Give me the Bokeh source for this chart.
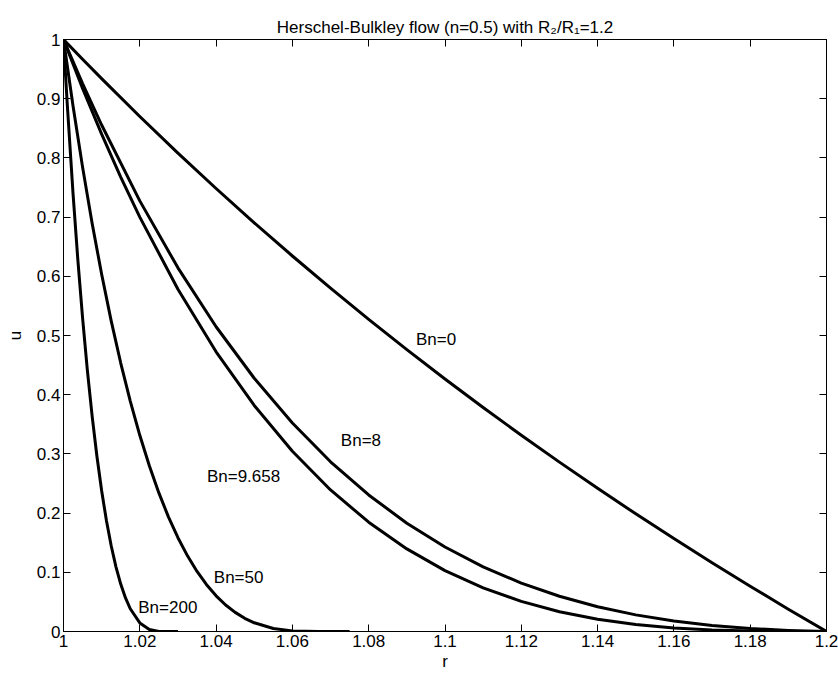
from bokeh.plotting import figure
from bokeh.models import Range1d, LinearAxis, FixedTicker, ColumnDataSource
from bokeh.core.properties import value
from bokeh.embed import file_html
from bokeh.resources import INLINE

# ---- data ----
r_bn0 = [1.0, 1.005, 1.01, 1.02, 1.03, 1.04, 1.05, 1.06, 1.07, 1.08, 1.09, 1.10,
         1.11, 1.12, 1.13, 1.14, 1.15, 1.16, 1.17, 1.18, 1.19, 1.20]
u_bn0 = [1.0, 0.9667, 0.9339, 0.8700, 0.8082, 0.7483, 0.6904, 0.6343, 0.5800, 0.5273,
         0.4762, 0.4265, 0.3784, 0.3316, 0.2861, 0.2418, 0.1988, 0.1569, 0.1162,
         0.0764, 0.0377, 0.0]

r_bn8 = [1.0, 1.005, 1.01, 1.02, 1.03, 1.04, 1.05, 1.06, 1.07, 1.08, 1.09, 1.10,
         1.11, 1.12, 1.13, 1.14, 1.15, 1.16, 1.17, 1.18, 1.19, 1.20]
u_bn8 = [1.0, 0.9256, 0.8555, 0.7274, 0.6143, 0.5148, 0.4278, 0.3521, 0.2867, 0.2306,
         0.1829, 0.1427, 0.1093, 0.0817, 0.0595, 0.0418, 0.0281, 0.0178, 0.0103,
         0.0051, 0.0019, 0.0]

r_bn9658 = [1.0, 1.005, 1.01, 1.015, 1.02, 1.03, 1.04, 1.05, 1.06, 1.07, 1.08, 1.09,
            1.10, 1.11, 1.12, 1.13, 1.14, 1.15, 1.16, 1.17, 1.18, 1.19, 1.20]
u_bn9658 = [1.0, 0.9175, 0.8401, 0.7677, 0.7000, 0.5780, 0.4725, 0.3818, 0.3044,
            0.2391, 0.1846, 0.1395, 0.1029, 0.0737, 0.0508, 0.0334, 0.0207, 0.0118,
            0.0059, 0.0025, 0.0007, 0.0001, 0.0]

r_bn50 = [1.0, 1.0025, 1.005, 1.0075, 1.01, 1.0125, 1.015, 1.0175, 1.02, 1.0225,
          1.025, 1.0275, 1.03, 1.0325, 1.035, 1.0375, 1.04, 1.0425, 1.045, 1.0475,
          1.05, 1.055, 1.06, 1.0669, 1.075]
u_bn50 = [1.0, 0.8877, 0.7844, 0.6897, 0.6033, 0.5247, 0.4535, 0.3892, 0.3314, 0.2799,
          0.2341, 0.1937, 0.1584, 0.1278, 0.1014, 0.0790, 0.0603, 0.0448, 0.0323,
          0.0223, 0.0147, 0.0051, 0.0010, 0.0, 0.0]

r_bn200 = [1.0, 1.0005, 1.001, 1.0025, 1.00375, 1.005, 1.00625, 1.0075, 1.00875,
           1.01, 1.01125, 1.0125, 1.01375, 1.015, 1.01625, 1.0175, 1.02, 1.0225,
           1.025, 1.0266, 1.03]
u_bn200 = [1.0, 0.9436, 0.8894, 0.7397, 0.6287, 0.5297, 0.4417, 0.3642, 0.2964,
           0.2377, 0.1874, 0.1448, 0.1092, 0.0801, 0.0567, 0.0384, 0.0145, 0.0034,
           0.0002, 0.0, 0.0]

label_text = ["Bn=0", "Bn=8", "Bn=9.658", "Bn=50", "Bn=200"]
label_r = [1.0924, 1.0727, 1.0376, 1.0394, 1.0196]
label_u = [0.494, 0.322, 0.261, 0.091, 0.041]

x_ticks = [1.0, 1.02, 1.04, 1.06, 1.08, 1.1, 1.12, 1.14, 1.16, 1.18, 1.2]
x_tick_labels = ["1", "1.02", "1.04", "1.06", "1.08", "1.1", "1.12", "1.14", "1.16", "1.18", "1.2"]
y_ticks = [0.0, 0.1, 0.2, 0.3, 0.4, 0.5, 0.6, 0.7, 0.8, 0.9, 1.0]
y_tick_labels = ["0", "0.1", "0.2", "0.3", "0.4", "0.5", "0.6", "0.7", "0.8", "0.9", "1"]

title_text = "Herschel-Bulkley flow (n=0.5) with R\u2082/R\u2081=1.2"

FONT = "Liberation Sans"
FS = "17px"

p = figure(width=838, height=677, output_backend="svg", toolbar_location=None,
           x_range=Range1d(1.0, 1.2), y_range=Range1d(0.0, 1.0),
           min_border_left=63, min_border_right=12, min_border_top=39, min_border_bottom=46,
           title=title_text)
p.title.align = "center"
p.title.text_font = FONT
p.title.text_font_size = FS
p.title.text_font_style = "normal"
p.title.text_color = "black"
p.title.standoff = 6
p.background_fill_color = "white"
p.border_fill_color = "white"
p.outline_line_color = "black"
p.outline_line_width = 1
p.grid.visible = False

def style_axis(ax, ticks, labels, show_labels):
    ax.ticker = FixedTicker(ticks=ticks)
    ax.major_tick_in = 7
    ax.major_tick_out = 0
    ax.minor_tick_line_color = None
    ax.axis_line_color = "black"
    ax.major_tick_line_color = "black"
    ax.major_label_text_font = FONT
    if show_labels:
        ax.major_label_overrides = {t: l for t, l in zip(ticks, labels)}
        ax.major_label_text_color = "black"
        ax.major_label_text_font_size = FS
        ax.major_label_standoff = 3
    else:
        ax.major_label_overrides = {t: "" for t in ticks}
        ax.major_label_text_color = None
        ax.major_label_text_font_size = "1px"
        ax.major_label_standoff = 0

style_axis(p.xaxis[0], x_ticks, x_tick_labels, True)
style_axis(p.yaxis[0], y_ticks, y_tick_labels, True)
p.xaxis[0].axis_label = "r"
p.yaxis[0].axis_label = "u"
for ax in (p.xaxis[0], p.yaxis[0]):
    ax.axis_label_text_font = FONT
    ax.axis_label_text_font_size = FS
    ax.axis_label_text_font_style = "normal"
    ax.axis_label_text_color = "black"
p.xaxis[0].axis_label_standoff = 2
p.yaxis[0].axis_label_standoff = 9

top_ax = LinearAxis()
style_axis(top_ax, x_ticks, x_tick_labels, False)
p.add_layout(top_ax, "above")
right_ax = LinearAxis()
style_axis(right_ax, y_ticks, y_tick_labels, False)
p.add_layout(right_ax, "right")

for rr, uu in [(r_bn0, u_bn0), (r_bn8, u_bn8), (r_bn9658, u_bn9658),
               (r_bn50, u_bn50), (r_bn200, u_bn200)]:
    p.line(rr, uu, line_color="black", line_width=3, line_join="round")

src = ColumnDataSource(dict(x=label_r, y=label_u, t=label_text))
p.text(x="x", y="y", text="t", source=src, text_font=value(FONT),
       text_font_size=FS, text_align="left", text_baseline="middle",
       text_color="black")

open("out.html", "w").write(file_html(p, INLINE))
